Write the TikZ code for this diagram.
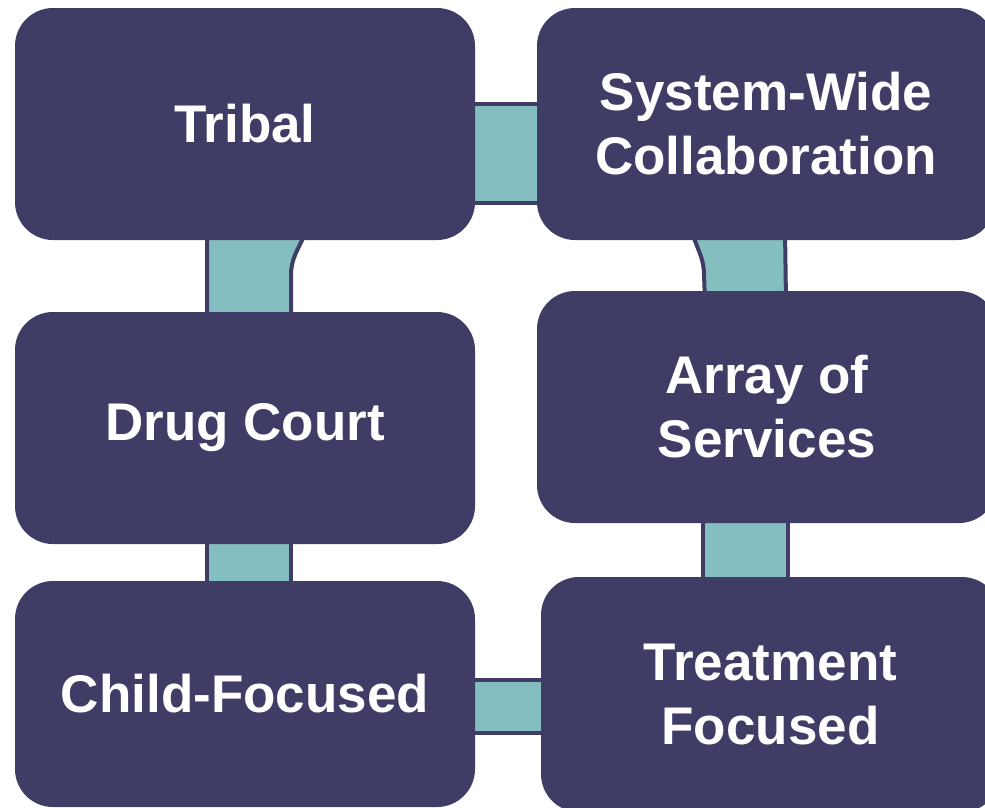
\documentclass[tikz,border=0pt]{standalone}
\usepackage{fontspec}
\setmainfont{Liberation Sans}
\usetikzlibrary{backgrounds}

\definecolor{boxnavy}{HTML}{3F3D66}
\definecolor{barteal}{HTML}{85BEC1}

\begin{document}
\begin{tikzpicture}[
    x=1pt, y=-1pt,
    font=\bfseries\fontsize{53}{64}\selectfont,
    text centered,
    stage/.style={
      rectangle,
      rounded corners=38pt,
      fill=boxnavy,
      text=white,
      align=center,
      inner sep=0pt,
      minimum width=460pt,
      minimum height=232pt
    },
    bar/.style={
      draw=boxnavy,
      line width=4pt,
      fill=barteal
    }
    ]

    \useasboundingbox (0,0) rectangle (985,807);

    \node [stage] (tribal) at (245,124) {Tribal};
    \node [stage, minimum width=458pt] (system) at (766,124) {System-Wide\\Collaboration};
    \node [stage] (drug) at (245,428) {Drug Court};
    \node [stage, minimum width=460pt] (array) at (767,407) {Array of\\Services};
    \node [stage, minimum height=226pt] (child) at (245,694) {Child-Focused};
    \node [stage, minimum width=459pt, minimum height=235pt] (treat) at (770.5,694.5) {Treatment\\Focused};

    % teal links, kept behind the boxes
    \begin{scope}[on background layer]
      \draw[bar] ([xshift=-10pt,yshift=20pt]tribal.east) rectangle ([xshift=10pt,yshift=-79pt]system.west);
      \draw[bar] ([xshift=-38pt,yshift=10pt]tribal.south)
        -- ([xshift=-38pt,yshift=-10pt]drug.north)
        -- ([xshift=46pt,yshift=-10pt]drug.north)
        -- ([xshift=46pt,yshift=-35pt]tribal.south)
        to[out=90,in=-115] ([xshift=58pt,yshift=2pt]tribal.south)
        -- ([xshift=58pt,yshift=10pt]tribal.south)
        -- cycle;
      \draw[bar] ([xshift=19pt,yshift=10pt]system.south)
        -- ([xshift=19pt,yshift=-10pt]array.north)
        -- ([xshift=-62pt,yshift=-10pt]array.north)
        -- ([xshift=-62pt,yshift=-35pt]system.south)
        to[out=90,in=-70] ([xshift=-72pt,yshift=2pt]system.south)
        -- ([xshift=-72pt,yshift=10pt]system.south)
        -- cycle;
      \draw[bar] ([xshift=-38pt,yshift=10pt]drug.south) rectangle ([xshift=46pt,yshift=-10pt]child.north);
      \draw[bar] ([xshift=-64pt,yshift=10pt]array.south) rectangle ([xshift=17pt,yshift=-10pt]treat.north);
      \draw[bar] ([xshift=-10pt,yshift=14pt]child.east) rectangle ([xshift=10pt,yshift=-38pt]treat.west);
    \end{scope}

\end{tikzpicture}
\end{document}
